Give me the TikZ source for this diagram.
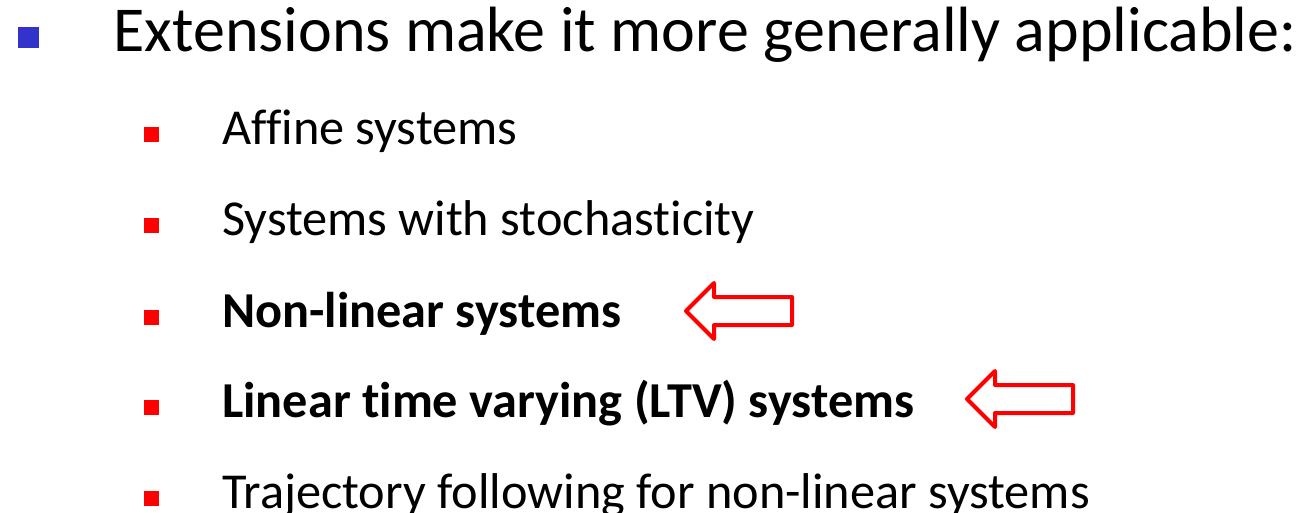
\documentclass[tikz,border=0pt]{standalone}
\usepackage{fontspec}
\setmainfont[Ligatures={NoCommon}]{Carlito}
\begin{document}
\begin{tikzpicture}[x=1pt,y=-1pt,
  lvlone/.style={anchor=base west,inner sep=0pt,font=\fontsize{64}{72}\selectfont},
  lvltwo/.style={anchor=base west,inner sep=0pt,font=\fontsize{50.3}{58}\selectfont},
  bluebullet/.style={fill=bulletblue,minimum size=21pt,inner sep=0pt,draw=none},
  redbullet/.style={fill=red,minimum size=15pt,inner sep=0pt,draw=none},
  hollowarrow/.style={draw=red,line width=4pt,line join=round,fill=white}]
\definecolor{bulletblue}{HTML}{3333CC}
\useasboundingbox (0,0) rectangle (1307,513);
% first level
\node[bluebullet] (b0) at (28,38) {};
\node[lvlone] (t0) at (113,52) {Extensions make it more generally applicable:};
% second level
\node[redbullet] (b1) at (151.5,135) {};
\node[lvltwo] (t1) at (222,145) {Affine systems};
\node[redbullet] (b2) at (151.5,225.5) {};
\node[lvltwo] (t2) at (222,235.5) {Systems with stochasticity};
\node[redbullet] (b3) at (151.5,317) {};
\node[lvltwo] (t3) at (222,327) {\bfseries Non-linear systems};
\node[redbullet] (b4) at (151.5,407) {};
\node[lvltwo] (t4) at (222,417) {\bfseries Linear time varying (LTV) systems};
\node[redbullet] (b5) at (151.5,498) {};
\node[lvltwo] (t5) at (222,508) {Trajectory following for non-linear systems};
% outlined arrows pointing at the highlighted items
\draw[hollowarrow] (686,311) -- (714,283) -- (714,297) -- (792,297) -- (792,325) -- (714,325) -- (714,339) -- cycle;
\draw[hollowarrow] (967,399) -- (995,371) -- (995,385) -- (1073,385) -- (1073,413) -- (995,413) -- (995,427) -- cycle;
\end{tikzpicture}
\end{document}
